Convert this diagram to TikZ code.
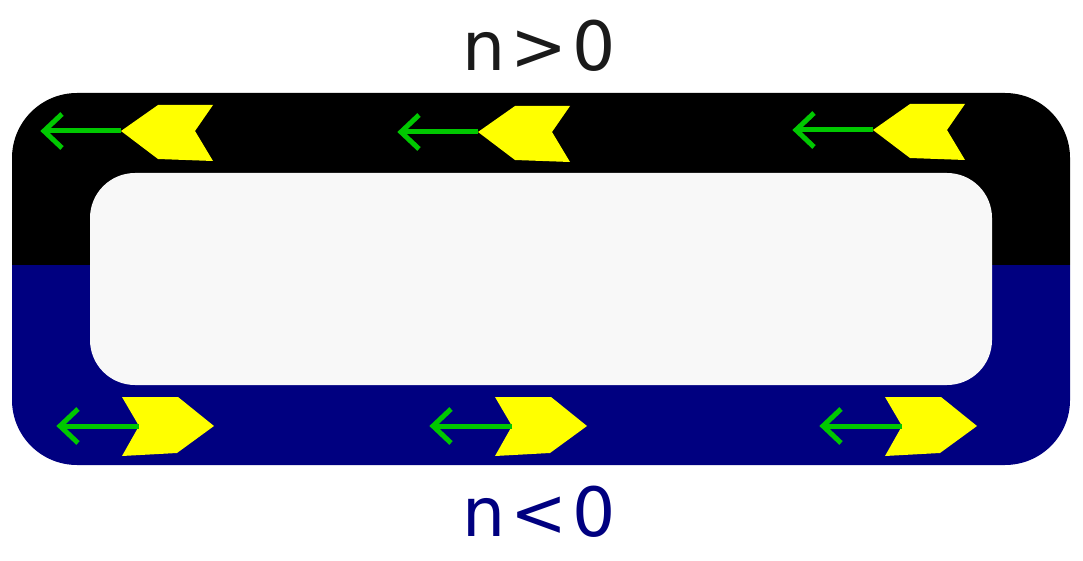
\documentclass[tikz,border=0pt]{standalone}
\usepackage{fontspec}
\setmainfont{DejaVu Sans}
\usetikzlibrary{calc}
\begin{document}
\begin{tikzpicture}[x=1pt,y=-1pt,
  chev/.style={fill={rgb,255:red,255;green,255;blue,0},draw=none},
  garrow/.style={draw={rgb,255:red,0;green,200;blue,0},line width=5pt,line cap=butt,line join=miter},
  lbl/.style={font=\fontsize{68}{68}\selectfont,inner sep=0pt}]
\definecolor{navyc}{RGB}{0,0,128}
\definecolor{innerc}{RGB}{248,248,248}
\definecolor{textc}{RGB}{26,26,26}
\useasboundingbox (0,0) rectangle (1083,561);
\fill[white] (0,0) rectangle (1083,561);
\begin{scope}
  \clip[rounded corners=65pt] (12,93) rectangle (1070,465);
  \fill[black] (0,80) rectangle (1083,265);
  \fill[navyc] (0,265) rectangle (1083,480);
\end{scope}
\fill[innerc,rounded corners=45pt] (90,173) rectangle (992,385);
% top chevrons (pointing left) with green arrows
\foreach \x/\y [count=\i] in {121/131,478/132,873/130}{
  \coordinate (t\i) at (\x,\y);
  \fill[chev] (t\i) -- ++(37,-26) -- ++(55,0) -- ++(-18,26) -- ++(18,30) -- ++(-55,-2) -- cycle;
  \coordinate (tg\i) at ($(t\i)+(-77,0)$);
  \draw[garrow] (t\i) -- (tg\i);
  \draw[garrow] ($(tg\i)+(18,-17)$) -- (tg\i) -- ($(tg\i)+(18,17)$);
}
% bottom chevrons (pointing right) with green arrows
\foreach \x/\y [count=\i] in {139/426,512/426,902/426}{
  \coordinate (b\i) at (\x,\y);
  \fill[chev] (b\i) -- ++(-17,-29) -- ++(56,0) -- ++(36,29) -- ++(-37,27) -- ++(-55,3) -- cycle;
  \coordinate (bg\i) at ($(b\i)+(-79,0)$);
  \draw[garrow] (b\i) -- (bg\i);
  \draw[garrow] ($(bg\i)+(18,-17)$) -- (bg\i) -- ($(bg\i)+(18,17)$);
}
\node[lbl,text=textc] (top) at (539,46) {n\kern5pt>\kern5pt0};
\node[lbl,text=navyc] (bot) at (539,512) {n\kern5pt<\kern5pt0};
\end{tikzpicture}
\end{document}
